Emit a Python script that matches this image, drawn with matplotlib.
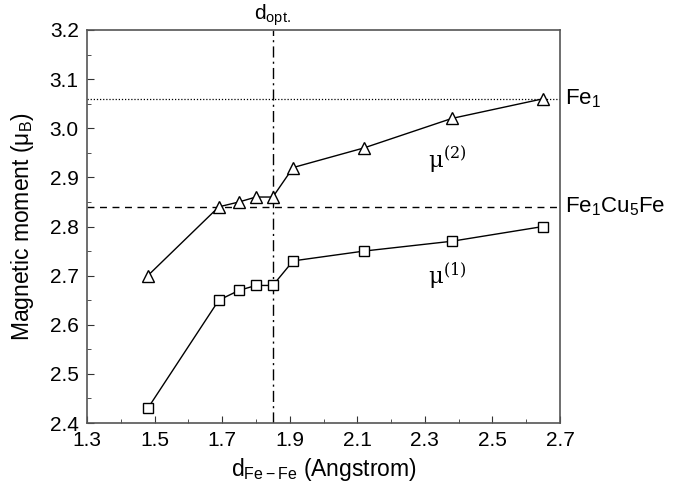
import matplotlib
matplotlib.use("Agg")
import matplotlib.pyplot as plt
from matplotlib.ticker import MultipleLocator

plt.rcParams['font.family'] = ['Liberation Sans', 'DejaVu Sans']
plt.rcParams['mathtext.fontset'] = 'custom'
plt.rcParams['mathtext.rm'] = 'Liberation Sans'
plt.rcParams['mathtext.it'] = 'Liberation Sans'

d = [1.48, 1.69, 1.75, 1.80, 1.85, 1.91, 2.12, 2.38, 2.65]
mu2 = [2.70, 2.84, 2.85, 2.86, 2.86, 2.92, 2.96, 3.02, 3.06]
mu1 = [2.43, 2.65, 2.67, 2.68, 2.68, 2.73, 2.75, 2.77, 2.80]
d_opt = 1.85
fe1 = 3.06
fe1cu5fe = 2.84
xticks = [1.3, 1.5, 1.7, 1.9, 2.1, 2.3, 2.5, 2.7]
yticks = [2.4, 2.5, 2.6, 2.7, 2.8, 2.9, 3.0, 3.1, 3.2]

fig = plt.figure(figsize=(6.81, 4.83), dpi=100)
ax = fig.add_axes([0.1278, 0.1242, 0.6945, 0.8137])

ax.plot(d, mu2, '-', color='black', lw=1, marker='^', ms=8.5, mfc='white', mec='black', mew=1, zorder=3)
ax.plot(d, mu1, '-', color='black', lw=1, marker='s', ms=7, mfc='white', mec='black', mew=1, zorder=3)

ax.axhline(fe1, color='black', lw=0.9, ls=(0, (1, 1.5)))
ax.axhline(fe1cu5fe, color='black', lw=1, ls=(0, (5, 4)))
ax.axvline(d_opt, color='black', lw=1, ls=(0, (8, 3, 1.5, 3)))

ax.set_xlim(1.3, 2.7)
ax.set_ylim(2.4, 3.2)
ax.set_xticks(xticks)
ax.set_xticklabels([f'{v:.1f}' for v in xticks])
ax.xaxis.set_minor_locator(MultipleLocator(0.1))
ax.set_yticks(yticks)
ax.set_yticklabels([f'{v:.1f}' for v in yticks])
ax.yaxis.set_minor_locator(MultipleLocator(0.05))
ax.tick_params(which='both', direction='in', top=False, right=False, labelsize=15, colors='#333333', labelcolor='black')
ax.tick_params(which='major', length=5, pad=6)
ax.tick_params(which='minor', length=3)
for s in ax.spines.values():
    s.set_color('#555555')
    s.set_linewidth(1.2)

ax.set_xlabel(r'd$_{\mathregular{Fe-Fe}}$ (Angstrom)', fontsize=16.5, labelpad=4)
ax.set_ylabel(r'Magnetic moment ($\mathregular{\mu_B}$)', fontsize=16.5, labelpad=10)

ax.text(d_opt, 3.205, r'd$_{\mathregular{opt.}}$', ha='center', va='bottom', fontsize=15)
ax.text(2.715, fe1, r'Fe$_{\mathregular{1}}$', ha='left', va='center', fontsize=16, clip_on=False)
ax.text(2.715, fe1cu5fe, r'Fe$_{\mathregular{1}}$Cu$_{\mathregular{5}}$Fe', ha='left', va='center', fontsize=16, clip_on=False)
ax.text(2.31, 2.935, r'$\mathregular{\mu^{(2)}}$', ha='left', va='center', fontsize=16.5, family='DejaVu Serif')
ax.text(2.31, 2.70, r'$\mathregular{\mu^{(1)}}$', ha='left', va='center', fontsize=16.5, family='DejaVu Serif')

fig.savefig('out.png', dpi=100)
